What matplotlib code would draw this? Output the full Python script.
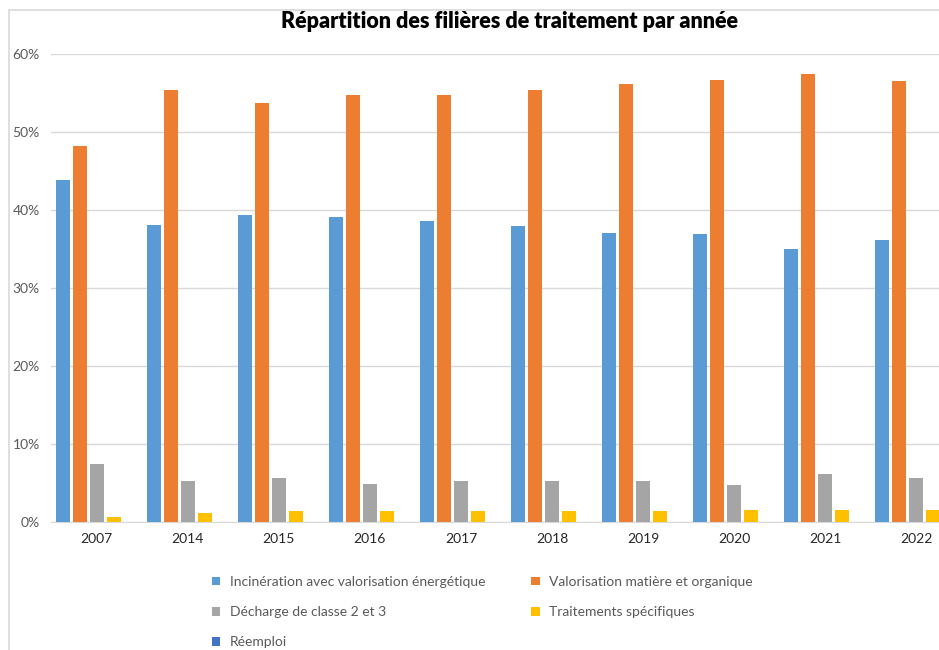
import numpy as np
import matplotlib.pyplot as plt
from matplotlib.patches import Rectangle
from matplotlib.ticker import PercentFormatter

# Données (parts en %)
annees = ['2007', '2014', '2015', '2016', '2017', '2018', '2019', '2020', '2021', '2022']
incineration = [43.8, 38.1, 39.4, 39.1, 38.6, 37.9, 37.1, 36.9, 35.0, 36.2]
valorisation = [48.2, 55.4, 53.7, 54.7, 54.7, 55.4, 56.2, 56.7, 57.4, 56.5]
decharge = [7.4, 5.2, 5.6, 4.9, 5.2, 5.2, 5.2, 4.7, 6.2, 5.7]
traitements = [0.6, 1.2, 1.4, 1.4, 1.4, 1.4, 1.4, 1.6, 1.6, 1.6]
reemploi = [0, 0, 0, 0, 0, 0, 0, 0, 0, 0]

series = [
    ("Incinération avec valorisation énergétique", incineration, '#5B9BD5'),
    ("Valorisation matière et organique", valorisation, '#ED7D31'),
    ("Décharge de classe 2 et 3", decharge, '#A5A5A5'),
    ("Traitements spécifiques", traitements, '#FFC000'),
    ("Réemploi", reemploi, '#4472C4'),
]

plt.rcParams['font.family'] = ['Lato', 'DejaVu Sans']

W, H = 939, 650
fig = plt.figure(figsize=(W / 100, H / 100), dpi=100)

# cadre du graphique (coupé à droite et en bas)
fig.patches.append(Rectangle((9 / W, -0.1), 1.2, 1 - 10 / H + 0.1,
                             transform=fig.transFigure, fill=False,
                             edgecolor='#d9d9d9', linewidth=1.2))

# zone de tracé
left, right = 51, W
ax = fig.add_axes([left / W, 1 - 522 / H, (right - left) / W, (522 - 54) / H])

x = np.arange(len(annees))
pas = 17 / 91.1
largeur = 14 / 91.1
barres = []
for i, (nom, vals, col) in enumerate(series):
    b = ax.bar(x + (i - 2) * pas, vals, largeur, color=col, label=nom, zorder=3)
    barres.append(b)

ax.set_ylim(0, 60)
ax.set_xlim(-0.5, (right - left) / 91.1 - 0.5)
ax.set_yticks(np.arange(0, 61, 10))
ax.yaxis.set_major_formatter(PercentFormatter(decimals=0))
ax.set_xticks(x)
ax.set_xticklabels(annees)
ax.grid(axis='y', color='#d9d9d9', linewidth=1, zorder=0)
for s in ['top', 'right', 'left']:
    ax.spines[s].set_visible(False)
ax.spines['bottom'].set_color('#d9d9d9')
ax.tick_params(axis='both', length=0, labelsize=10)
ax.tick_params(axis='y', colors='#595959', pad=8)
ax.tick_params(axis='x', colors='#262626', pad=8)

fig.text(510 / W, 1 - 21 / H, "Répartition des filières de traitement par année",
         ha='center', va='center', fontsize=15.5, fontweight='heavy', color='black')

# légende : ordre ligne par ligne comme dans Excel
ordre = [0, 2, 4, 1, 3]
leg = fig.legend([barres[i] for i in ordre], [series[i][0] for i in ordre],
                 loc='upper left', bbox_to_anchor=(205 / W, 1 - 569 / H),
                 ncol=2, frameon=False, fontsize=10, labelcolor='#595959',
                 handlelength=0.6, handleheight=0.6, handletextpad=0.7,
                 labelspacing=1.3, columnspacing=3.3, borderpad=0)

fig.savefig('out.png', dpi=100, facecolor='white')
